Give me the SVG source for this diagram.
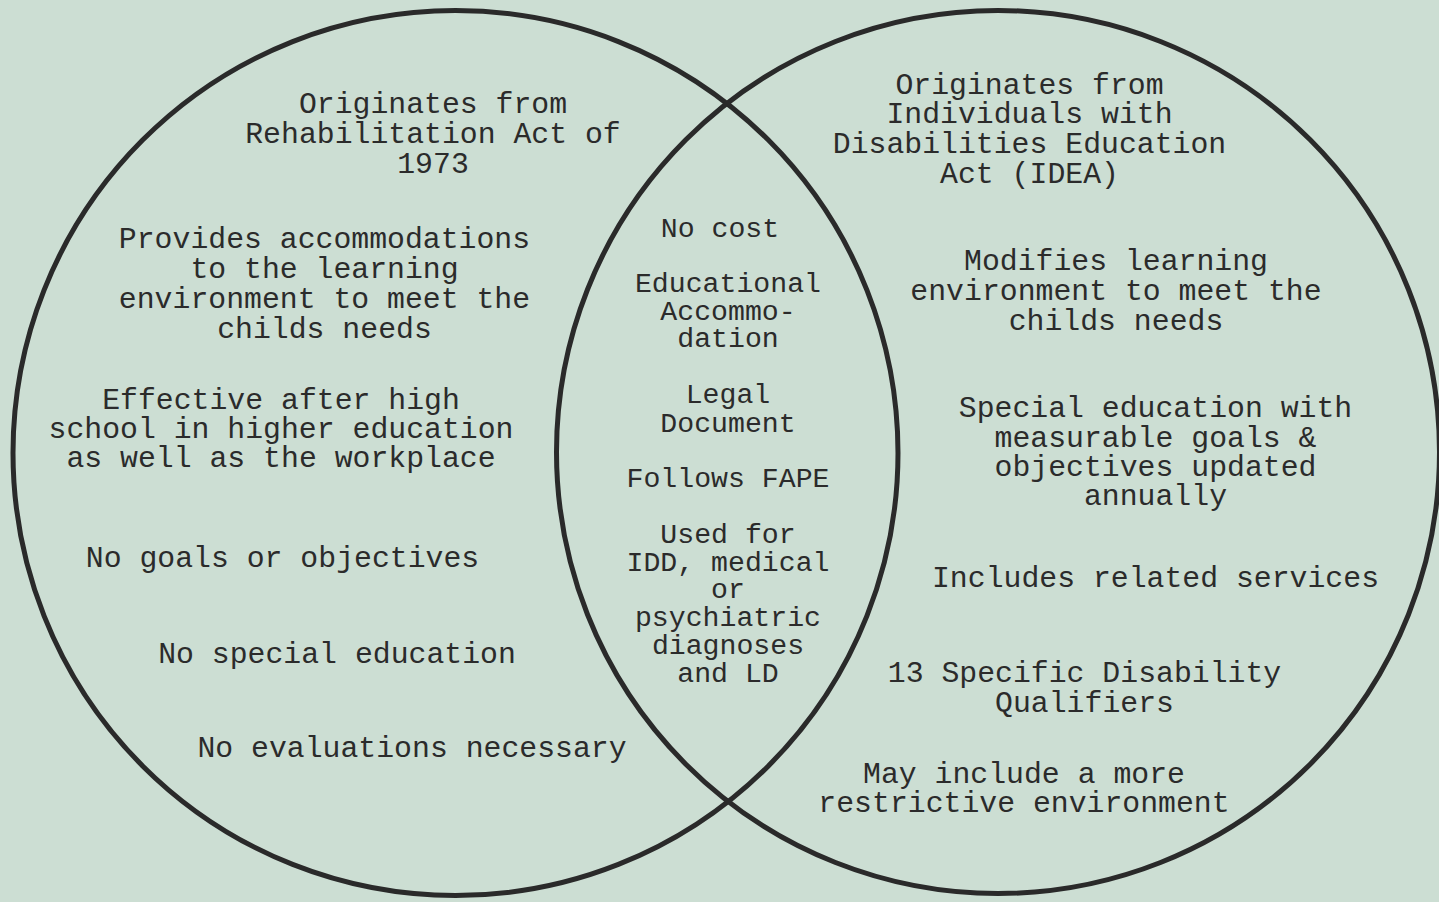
<svg xmlns="http://www.w3.org/2000/svg" width="1439" height="902" viewBox="0 0 1439 902">
<style>
.bg{fill:#ccded3}
.ring{fill:none;stroke:#2a2a2a;stroke-width:5}
text{font-family:"Liberation Mono","DejaVu Sans Mono",monospace;fill:#2b2b2b;text-anchor:middle}
.t{font-size:29.8px}
.m{font-size:28.2px}
</style>
<rect class="bg" x="0" y="0" width="1439" height="902"/>
<g id="circles">
<circle id="left-circle" class="ring" cx="455.5" cy="453" r="442.5"/>
<circle id="right-circle" class="ring" cx="998" cy="452" r="441.5"/>
</g>
<g id="left-origin"><text class="t"><tspan x="433" y="113">Originates from</tspan><tspan x="433" y="143">Rehabilitation Act of</tspan><tspan x="433" y="173">1973</tspan></text></g>
<g id="left-accommodations"><text class="t"><tspan x="324.5" y="248">Provides accommodations</tspan><tspan x="324.5" y="278">to the learning</tspan><tspan x="324.5" y="308">environment to meet the</tspan><tspan x="324.5" y="338">childs needs</tspan></text></g>
<g id="left-effective"><text class="t"><tspan x="281" y="409">Effective after high</tspan><tspan x="281" y="438">school in higher education</tspan><tspan x="281" y="467">as well as the workplace</tspan></text></g>
<g id="left-goals"><text class="t" x="282.5" y="567">No goals or objectives</text></g>
<g id="left-special"><text class="t" x="337" y="663">No special education</text></g>
<g id="left-evaluations"><text class="t" x="412" y="757">No evaluations necessary</text></g>
<g id="mid-cost"><text class="m" x="720" y="237">No cost</text></g>
<g id="mid-accommodation"><text class="m"><tspan x="728" y="292">Educational</tspan><tspan x="728" y="320">Accommo-</tspan><tspan x="728" y="347">dation</tspan></text></g>
<g id="mid-legal"><text class="m"><tspan x="728" y="403">Legal</tspan><tspan x="728" y="432">Document</tspan></text></g>
<g id="mid-fape"><text class="m" x="728" y="487">Follows FAPE</text></g>
<g id="mid-used"><text class="m"><tspan x="728" y="543">Used for</tspan><tspan x="728" y="571">IDD, medical</tspan><tspan x="728" y="598">or</tspan><tspan x="728" y="626">psychiatric</tspan><tspan x="728" y="654">diagnoses</tspan><tspan x="728" y="682">and LD</tspan></text></g>
<g id="right-origin"><text class="t"><tspan x="1029.5" y="94">Originates from</tspan><tspan x="1029.5" y="123">Individuals with</tspan><tspan x="1029.5" y="153">Disabilities Education</tspan><tspan x="1029.5" y="183">Act (IDEA)</tspan></text></g>
<g id="right-modifies"><text class="t"><tspan x="1116" y="270">Modifies learning</tspan><tspan x="1116" y="300">environment to meet the</tspan><tspan x="1116" y="330">childs needs</tspan></text></g>
<g id="right-special"><text class="t"><tspan x="1155.5" y="417">Special education with</tspan><tspan x="1155.5" y="447">measurable goals &amp;</tspan><tspan x="1155.5" y="476">objectives updated</tspan><tspan x="1155.5" y="505">annually</tspan></text></g>
<g id="right-services"><text class="t" x="1155.5" y="587">Includes related services</text></g>
<g id="right-qualifiers"><text class="t"><tspan x="1084.5" y="682">13 Specific Disability</tspan><tspan x="1084.5" y="712">Qualifiers</tspan></text></g>
<g id="right-restrictive"><text class="t"><tspan x="1024" y="783">May include a more</tspan><tspan x="1024" y="812">restrictive environment</tspan></text></g>
</svg>
